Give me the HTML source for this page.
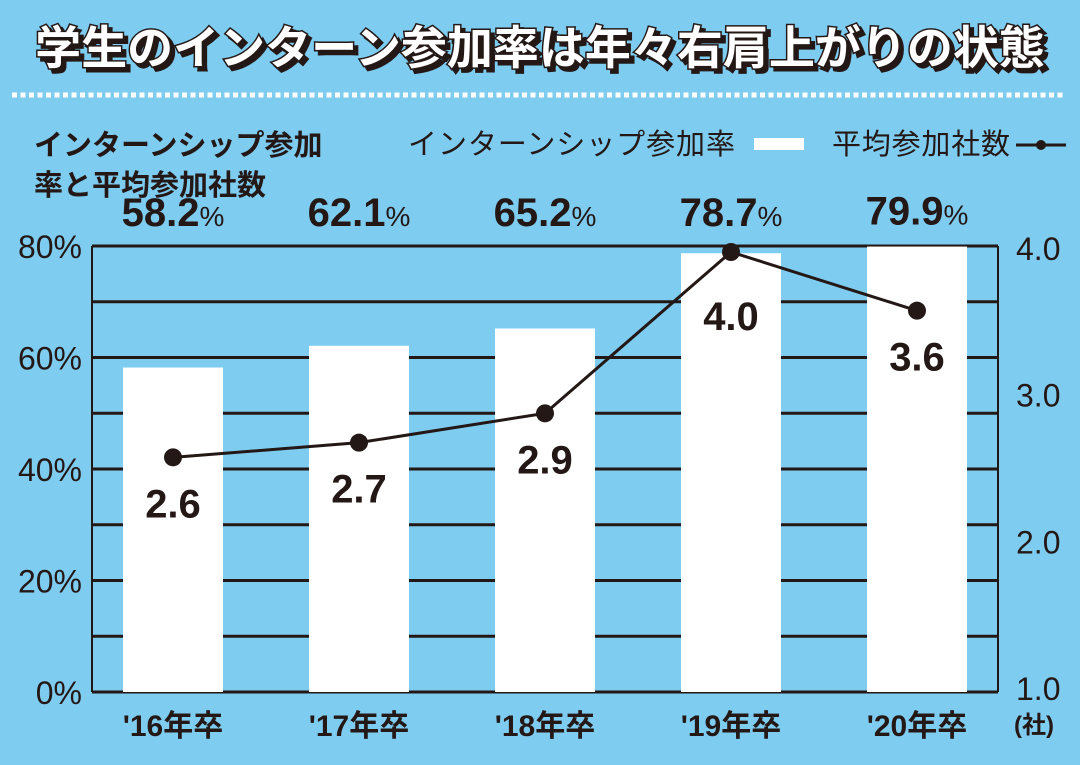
<!DOCTYPE html>
<html><head><meta charset="utf-8"><style>
html,body{margin:0;padding:0;}
body{width:1080px;height:760px;background:#7fccf1;overflow:hidden;font-family:"Liberation Sans","Noto Sans CJK JP",sans-serif;}
svg text{font-family:"Liberation Sans","Noto Sans CJK JP",sans-serif;fill:#231815;}
</style></head><body>
<svg width="1080" height="760" viewBox="0 0 1080 760">
<text x="540" y="64" text-anchor="middle" font-size="46" font-weight="bold" style="fill:#fff;stroke:#231815;stroke-width:3;paint-order:stroke;filter:drop-shadow(4px 4px 0 #231815)">学生のインターン参加率は年々右肩上がりの状態</text>
<line x1="12" y1="95" x2="1066" y2="95" stroke="#fff" stroke-width="5" stroke-dasharray="5,3.5"/>
<text x="34" y="155" font-size="29" font-weight="bold">インターンシップ参加</text>
<text x="34" y="195" font-size="29" font-weight="bold">率と平均参加社数</text>
<text x="408" y="154" font-size="29" textLength="327">インターンシップ参加率</text>
<rect x="754" y="138" width="50" height="12" fill="#fff"/>
<text x="832" y="154" font-size="29" textLength="178">平均参加社数</text>
<g><line x1="1016" y1="145" x2="1066" y2="145" stroke="#231815" stroke-width="3"/><circle cx="1041" cy="145" r="5" fill="#231815"/></g>
<g id="grid"></g><g id="bars"></g><g id="axes"></g><g id="line"></g><g id="labels"></g>
</svg>
<script>
const categories=["'16年卒","'17年卒","'18年卒","'19年卒","'20年卒"];
const rates=[58.2,62.1,65.2,78.7,79.9];
const companies=[2.6,2.7,2.9,4.0,3.6];
const leftTicks=["0%","20%","40%","60%","80%"];
const rightTicks=["1.0","2.0","3.0","4.0"];
const NS="http://www.w3.org/2000/svg";
const X0=92,X1=998,Y0=692,Y1=246;
const yL=v=>Y0-(v/80)*(Y0-Y1);
const yR=v=>Y0-(v-1)/3*(Y0-252);
const xC=i=>173+186*i;
function mk(t,a,p){const e=document.createElementNS(NS,t);for(const k in a)e.setAttribute(k,a[k]);document.getElementById(p).appendChild(e);return e;}
for(let g=0;g<=8;g++){const y=yL(g*10);
 const l=mk('line',{x1:X0,x2:X1,y1:y,y2:y,stroke:'#231815','stroke-width':3},'grid');
 
 }
leftTicks.forEach((t,i)=>{const v=parseFloat(t);const e=mk('text',{x:82,y:yL(v)+12,'text-anchor':'end','font-size':32},'axes');e.textContent=t;
 
 });
rightTicks.forEach((t,i)=>{const v=parseFloat(t);const e=mk('text',{x:1016,y:yR(v)+8,'font-size':32},'axes');e.textContent=t;
 
 });
const u=mk('text',{x:1014,y:733,'font-size':24,'font-weight':'bold'},'axes');u.textContent='(社)';


[[X0,Y1,X0,Y0],[X1,Y1,X1,Y0]].forEach(c=>{const l=mk('line',{x1:c[0],y1:c[1],x2:c[2],y2:c[3],stroke:'#231815','stroke-width':2},'axes');
 
 });
categories.forEach((c,i)=>{
 const b=mk('rect',{x:xC(i)-50,y:yL(rates[i]),width:100,height:Y0-yL(rates[i]),fill:'#fff'},'bars');
 
 
 const t=mk('text',{x:xC(i),y:736,'text-anchor':'middle','font-size':30,'font-weight':'bold'},'axes');t.textContent=c;
 
 
 const ty=Math.min(yL(rates[i])-22,226);
 const v=mk('text',{x:xC(i),y:ty,'text-anchor':'middle','font-size':40,'font-weight':'bold'},'labels');
 v.innerHTML=rates[i].toFixed(1)+'<tspan font-size="28" font-weight="normal">%</tspan>';
 
 
});
const pts=companies.map((v,i)=>xC(i)+','+yR(v)).join(' ');
const pl=mk('polyline',{points:pts,fill:'none',stroke:'#231815','stroke-width':3},'line');


const maxV=Math.max(...companies);
companies.forEach((v,i)=>{
 const c=mk('circle',{cx:xC(i),cy:yR(v),r:9,fill:'#231815'},'line');
 
 
 const t=mk('text',{x:xC(i),y:yR(v)+(v===maxV?78:60),'text-anchor':'middle','font-size':40,'font-weight':'bold'},'labels');
 t.textContent=v.toFixed(1);
 
 
});
</script>
</body></html>
